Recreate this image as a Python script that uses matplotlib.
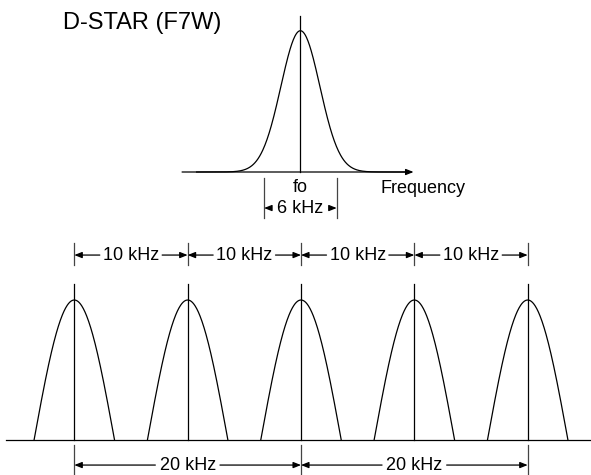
import matplotlib.pyplot as plt
import numpy as np

plt.rcParams['font.family'] = ['Liberation Sans', 'DejaVu Sans']

# top spectrum (kHz)
fo_sigma_khz = 1.61
fo_bw_khz = 6
fo_axis_khz = (-9.78, 9.35)

# channel raster (kHz)
channel_centers = [0, 10, 20, 30, 40]
channel_halfwidth = 3.55
step_labels = ['10 kHz', '10 kHz', '10 kHz', '10 kHz']
wide_marks = [0, 20, 40]
wide_labels = ['20 kHz', '20 kHz']

W, H = 591, 475
fig = plt.figure(figsize=(W / 100, H / 100), dpi=100)

lw = 0.9
arrow_kw = dict(arrowstyle='-|>,head_length=0.45,head_width=0.18', color='black',
                lw=lw, shrinkA=0, shrinkB=0)


def dim_arrow(ax, x0, x1, y, gap):
    # line from text edge towards the tick on both sides
    mid = (x0 + x1) / 2
    ax.annotate('', xy=(x0, y), xytext=(mid - gap, y), arrowprops=arrow_kw)
    ax.annotate('', xy=(x1, y), xytext=(mid + gap, y), arrowprops=arrow_kw)


# ---------- top: single D-STAR signal ----------
ax1 = fig.add_axes([0, 0, 1, 1])
ax1.patch.set_alpha(0)
ax1.axis('off')
px_khz = 12.1
ax1.set_xlim(-300.4 / px_khz, (W - 300.4) / px_khz)
ax1.set_ylim(-(H - 172) / 141.3, 172 / 141.3)

xg = np.linspace(fo_axis_khz[0] + 1.2, fo_axis_khz[1] - 0.6, 400)
ax1.plot(xg, np.exp(-xg ** 2 / (2 * fo_sigma_khz ** 2)), color='black', lw=lw)
ax1.annotate('', xy=(fo_axis_khz[1], 0), xytext=(fo_axis_khz[0], 0), arrowprops=arrow_kw)
ax1.plot([0, 0], [0, 1.106], color='black', lw=lw)
for xt in (-fo_bw_khz / 2, fo_bw_khz / 2):
    ax1.plot([xt, xt], [-0.042, -0.326], color='#444444', lw=lw)
ax1.text(0, -0.113, 'fo', ha='center', va='center', fontsize=13)
ax1.text(0, -0.255, '6 kHz', ha='center', va='center', fontsize=13)
dim_arrow(ax1, -fo_bw_khz / 2, fo_bw_khz / 2, -0.255, 2.45)
ax1.text(6.58, -0.12, 'Frequency', ha='left', va='center', fontsize=13)

fig.text(63 / W, 1 - 23 / H, 'D-STAR (F7W)', ha='left', va='center', fontsize=17)

# ---------- bottom: channel spacing ----------
ax2 = fig.add_axes([0, 0, 1, 1])
ax2.patch.set_alpha(0)
ax2.axis('off')
px10 = 11.335
ax2.set_xlim(-74.3 / px10, (W - 74.3) / px10)
ax2.set_ylim(-(H - 440) / 140, 440 / 140)

ax2.plot([-6.06, 46], [0, 0], color='black', lw=lw)
for c in channel_centers:
    u = np.linspace(-1, 1, 200)
    ax2.plot(c + u * channel_halfwidth, np.cos(np.pi / 2 * u), color='black', lw=lw)
    ax2.plot([c, c], [0, 1.114], color='black', lw=lw)
    ax2.plot([c, c], [1.25, 1.407], color='#444444', lw=lw)

for i, lab in enumerate(step_labels):
    a, b = channel_centers[i], channel_centers[i + 1]
    ax2.text((a + b) / 2, 1.321, lab, ha='center', va='center', fontsize=13)
    dim_arrow(ax2, a, b, 1.321, 2.75)

for c in wide_marks:
    ax2.plot([c, c], [-0.036, -0.26], color='#444444', lw=lw)
for i, lab in enumerate(wide_labels):
    a, b = wide_marks[i], wide_marks[i + 1]
    ax2.text((a + b) / 2, -0.179, lab, ha='center', va='center', fontsize=13)
    dim_arrow(ax2, a, b, -0.179, 2.85)

plt.savefig('out.png', dpi=100)
